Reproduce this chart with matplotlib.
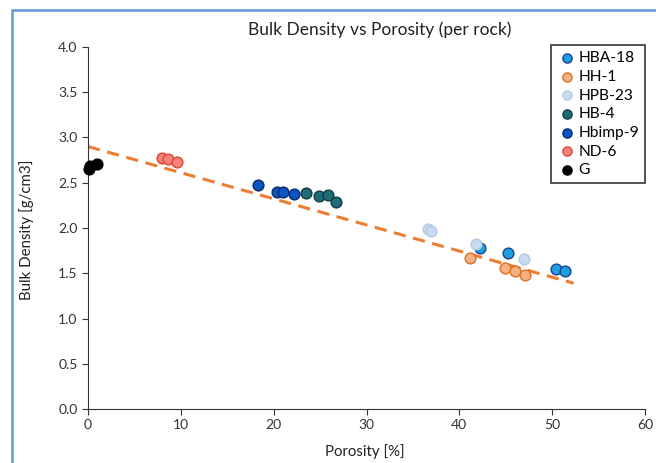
import matplotlib.pyplot as plt
from matplotlib.patches import Rectangle

plt.rcParams['font.family'] = ['Lato', 'DejaVu Sans']

# data (porosity %, bulk density g/cm3)
hba18_x = [42.2, 45.2, 50.4, 51.4]
hba18_y = [1.78, 1.72, 1.55, 1.52]
hh1_x = [41.1, 44.9, 46.0, 47.1]
hh1_y = [1.67, 1.56, 1.53, 1.48]
hpb23_x = [36.6, 37.0, 41.8, 47.0]
hpb23_y = [1.99, 1.97, 1.82, 1.66]
hb4_x = [23.5, 24.9, 25.8, 26.7]
hb4_y = [2.39, 2.35, 2.37, 2.29]
hbimp9_x = [18.3, 20.4, 21.0, 22.2]
hbimp9_y = [2.48, 2.40, 2.40, 2.38]
nd6_x = [8.0, 8.6, 9.6]
nd6_y = [2.77, 2.76, 2.73]
g_x = [0.1, 0.2, 1.0]
g_y = [2.65, 2.69, 2.71]

trend_x = [0, 52.3]
trend_y = [2.90, 1.39]

series = [
    ("HBA-18", hba18_x, hba18_y, "#1BA1E2", "#1F3F8F"),
    ("HH-1", hh1_x, hh1_y, "#F4B183", "#E0701F"),
    ("HPB-23", hpb23_x, hpb23_y, "#C6D9EF", "#B4CBE4"),
    ("HB-4", hb4_x, hb4_y, "#1F6B78", "#103A48"),
    ("Hbimp-9", hbimp9_x, hbimp9_y, "#0A55C4", "#0A2A6A"),
    ("ND-6", nd6_x, nd6_y, "#F8837A", "#E0452F"),
    ("G", g_x, g_y, "#000000", "#000000"),
]

fig = plt.figure(figsize=(6.56, 4.63), dpi=100)
ax = fig.add_axes([88 / 656, 1 - 409 / 463, (645 - 88) / 656, (409 - 47) / 463])

ax.plot(trend_x, trend_y, color="#ED7D31", lw=2.2, ls=(0, (4, 2.5)), zorder=1)
for name, xs, ys, fc, ec in series:
    ax.scatter(xs, ys, s=60, facecolor=fc, edgecolor=ec, linewidth=1.0, label=name,
               zorder=3, clip_on=False)

ax.set_xlim(0, 60)
ax.set_ylim(0, 4)
ax.set_xticks(range(0, 61, 10))
ax.set_yticks([i * 0.5 for i in range(9)])
ax.set_yticklabels([f"{i * 0.5:.1f}" for i in range(9)])
ax.spines["top"].set_visible(False)
ax.spines["right"].set_visible(False)
for sp in ["left", "bottom"]:
    ax.spines[sp].set_color("#333333")
ax.tick_params(direction="out", length=4, color="#333333", labelsize=10, labelcolor="#333333")

fig.text(380 / 656, 1 - 30 / 463, "Bulk Density vs Porosity (per rock)", ha="center", va="center",
         fontsize=12.5, color="#222222")
fig.text(365 / 656, 1 - 452 / 463, "Porosity [%]", ha="center", va="center", fontsize=10.8, color="#222222")
fig.text(27 / 656, 1 - 230 / 463, "Bulk Density [g/cm3]", ha="center", va="center", rotation=90,
         fontsize=10.8, color="#222222")

leg = fig.legend(loc="upper left", bbox_to_anchor=(551 / 656, 1 - 45 / 463), fontsize=11.2,
                 frameon=True, fancybox=False, handletextpad=0.15, handlelength=1.2,
                 borderpad=0.4, labelspacing=0.3, scatterpoints=1, markerscale=0.85,
                 borderaxespad=0)
leg.get_frame().set_edgecolor("black")
leg.get_frame().set_linewidth(1.2)

fig.patches.append(Rectangle((12 / 656, -0.1), 1.0, 1.1 - 10 / 463, transform=fig.transFigure,
                             fill=False, edgecolor="#5B9BD5", linewidth=1.8))

fig.savefig("out.png", dpi=100)
